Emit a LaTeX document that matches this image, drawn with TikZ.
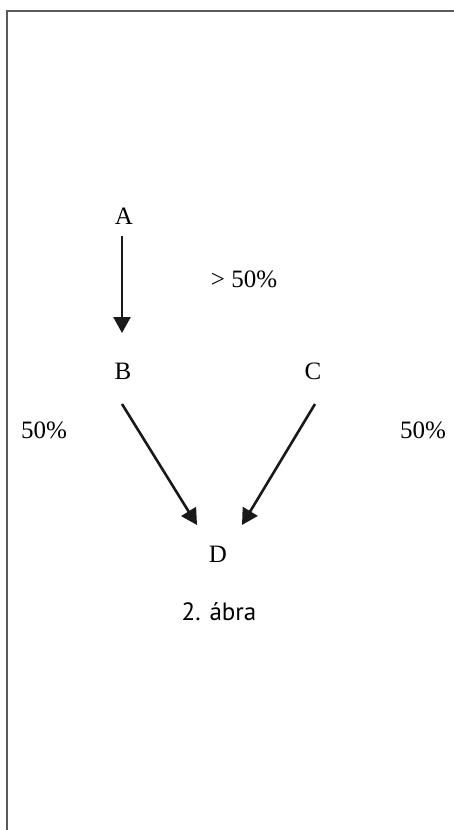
\documentclass[tikz,border=0pt]{standalone}
\usepackage{fontspec}
\setmainfont{Liberation Serif}
\newfontfamily\capfont{PT Sans}
\usetikzlibrary{arrows.meta}
\definecolor{FR}{RGB}{90,90,90}
\definecolor{DK}{RGB}{25,25,25}

\begin{document}
\begin{tikzpicture}[
  x=1pt, y=-1pt,
  lbl/.style={inner sep=0pt, font=\fontsize{25}{30}\selectfont},
  captxt/.style={inner sep=0pt, font=\capfont\fontsize{25}{30}\selectfont},
  earr/.style={draw=DK, line width=2.6pt, -{Triangle[length=16pt,width=17pt]}}
]
\useasboundingbox (0,0) rectangle (453,830);

% frame (only top and left edge inside the page)
\draw[FR, line width=2pt] (7,832) -- (7,11) -- (456,11);

% letters
\node[lbl] (A) at (124,216) {A};
\node[lbl] (B) at (123,371) {B};
\node[lbl] (C) at (313,371) {C};
\node[lbl] (D) at (218,554) {D};

% shares
\node[lbl] (P1) at (244,279) {\textgreater{} 50\%};
\node[lbl] (P2) at (44,430) {50\%};
\node[lbl] (P3) at (423,430) {50\%};

% arrows
\draw[earr] ([xshift=-2pt,yshift=-20pt]A.center) -- ([xshift=-1pt,yshift=38pt]B.center);
\draw[earr] ([xshift=-1pt,yshift=-33pt]B.center) -- ([xshift=-21pt,yshift=29pt]D.center);
\draw[earr] ([xshift=2pt,yshift=-33pt]C.center) -- ([xshift=24pt,yshift=29pt]D.center);

% caption
\node[captxt] (T) at (219,612) {2. ábra};
\end{tikzpicture}
\end{document}
